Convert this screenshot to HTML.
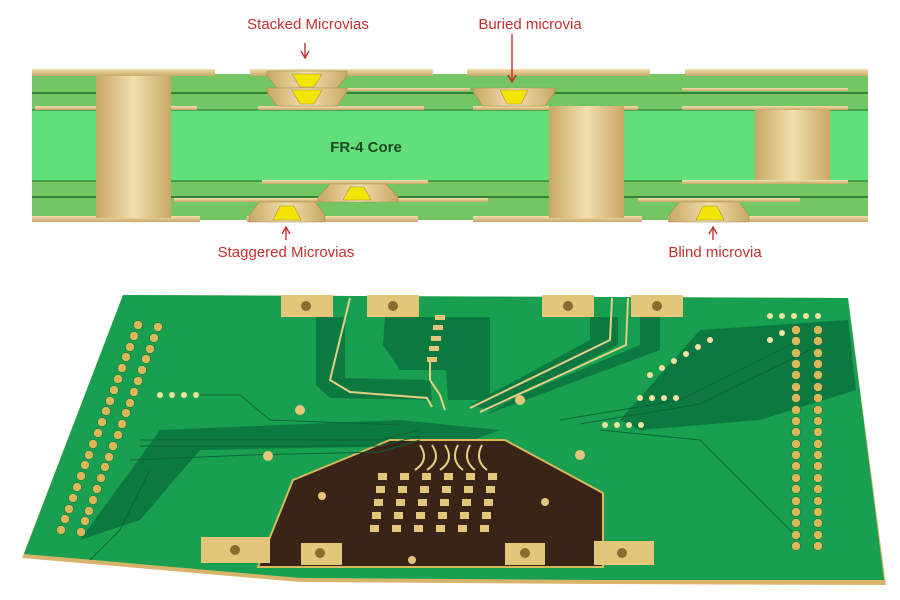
<!DOCTYPE html>
<html><head><meta charset="utf-8"><style>
html,body{margin:0;padding:0;background:#fff;width:900px;height:600px;overflow:hidden}
svg{display:block}
.lbl{font-family:"Liberation Sans",sans-serif;font-size:15px;fill:#c3302e}
</style></head><body>
<svg width="900" height="600" viewBox="0 0 900 600" xmlns="http://www.w3.org/2000/svg">
<defs>
<linearGradient id="cu" x1="0" y1="0" x2="1" y2="0">
<stop offset="0" stop-color="#c9a866"/><stop offset="0.5" stop-color="#f1dfae"/><stop offset="1" stop-color="#c9a866"/></linearGradient>
<linearGradient id="cuv" x1="0" y1="0" x2="0" y2="1">
<stop offset="0" stop-color="#f1dfae"/><stop offset="1" stop-color="#c9a866"/></linearGradient>
</defs>
<!-- ===== top cross-section ===== -->
<rect x="32" y="74" width="836" height="146" fill="#74c665"/>
<rect x="32" y="110" width="836" height="71" fill="#62de7a"/>
<line x1="32" y1="93" x2="868" y2="93" stroke="#1e6e2a" stroke-width="1.5"/>
<line x1="32" y1="197" x2="868" y2="197" stroke="#1e6e2a" stroke-width="1.5"/>
<line x1="32" y1="110" x2="868" y2="110" stroke="#1e6e2a" stroke-width="1"/>
<line x1="32" y1="181" x2="868" y2="181" stroke="#1e6e2a" stroke-width="1"/>
<g fill="url(#cuv)">
<rect x="32" y="69" width="183" height="7"/><rect x="250" y="69" width="183" height="7"/>
<rect x="467" y="69" width="183" height="7"/><rect x="685" y="69" width="183" height="7"/>
<rect x="32" y="216" width="168" height="6"/><rect x="247" y="216" width="171" height="6"/>
<rect x="473" y="216" width="169" height="6"/><rect x="668" y="216" width="200" height="6"/>
<rect x="35" y="106" width="62" height="4"/><rect x="171" y="106" width="26" height="4"/>
<rect x="258" y="106" width="166" height="4"/><rect x="473" y="106" width="165" height="4"/><rect x="682" y="106" width="166" height="4"/>
<rect x="347" y="88" width="123" height="3"/><rect x="682" y="88" width="166" height="3"/>
<rect x="262" y="180" width="166" height="4"/><rect x="682" y="180" width="166" height="4"/>
<rect x="174" y="198" width="314" height="4"/><rect x="638" y="198" width="162" height="4"/>
</g>
<rect x="96" y="76" width="75" height="142" fill="url(#cu)"/>
<rect x="549" y="106" width="75" height="112" fill="url(#cu)"/>
<rect x="755" y="110" width="75" height="70" fill="url(#cu)"/>
<g stroke="#a88a4c" stroke-width="0.6">
<path d="M267,71 H347 V76 L337,88 H277 L267,76Z" fill="url(#cu)"/><path d="M292,74 H322 L314,87 H300Z" fill="#f2e600"/>
<path d="M267,88 H347 V92 L337,106 H277 L267,92Z" fill="url(#cu)"/><path d="M292,90 H322 L314,104 H300Z" fill="#f2e600"/>
<path d="M473,88 H555 V92 L545,106 H483 L473,92Z" fill="url(#cu)"/><path d="M500,90 H528 L521,104 H507Z" fill="#f2e600"/>
<path d="M318,202 V197 L330,184 H386 L398,197 V202Z" fill="url(#cu)"/><path d="M343,200 L350,187 H364 L371,200Z" fill="#f2e600"/>
<path d="M249,222 V215 L259,202 H315 L325,215 V222Z" fill="url(#cu)"/><path d="M273,220 L280,206 H294 L301,220Z" fill="#f2e600"/>
<path d="M669,222 V215 L679,202 H739 L749,215 V222Z" fill="url(#cu)"/><path d="M696,220 L703,206 H717 L724,220Z" fill="#f2e600"/>
</g>
<text x="366" y="152" font-family="Liberation Sans,sans-serif" font-size="15" font-weight="bold" fill="#1d4a22" text-anchor="middle">FR-4  Core</text>
<text class="lbl" x="308" y="29" text-anchor="middle">Stacked Microvias</text>
<text class="lbl" x="530" y="29" text-anchor="middle">Buried microvia</text>
<text class="lbl" x="286" y="257" text-anchor="middle">Staggered Microvias</text>
<text class="lbl" x="715" y="257" text-anchor="middle">Blind microvia</text>
<g stroke="#c3302e" stroke-width="1.4" fill="none">
<line x1="305" y1="43" x2="305" y2="58"/><path d="M301,51 L305,58 L309,51"/>
<line x1="512" y1="34" x2="512" y2="82"/><path d="M508,75 L512,82 L516,75"/>
<line x1="286" y1="240" x2="286" y2="228"/><path d="M282,234 L286,227 L290,234"/>
<line x1="713" y1="240" x2="713" y2="228"/><path d="M709,234 L713,227 L717,234"/>
</g>
<!-- ===== bottom PCB photo ===== -->
<polygon points="123,295 848,298 886,585 600,584 300,582 22,558" fill="#d8b46a"/>
<polygon points="123,295 848,298 884,580 600,580 300,578 24,554" fill="#18a050"/>
<g fill="#0c7a40">
<polygon points="316,317 345,317 345,378 430,380 432,400 330,398 316,385"/>
<polygon points="385,317 490,317 490,400 448,400 446,370 400,370 383,345"/>
<polygon points="590,317 618,317 618,345 490,410 470,405 590,340"/>
<polygon points="640,317 660,317 660,350 485,415 520,395 640,345"/>
<polygon points="700,330 848,320 856,390 760,420 640,430 620,420"/>
<polygon points="160,430 400,420 500,430 460,445 200,450 140,520 80,540"/>
</g>
<polygon points="293,480 390,440 505,440 603,493 603,567 258,567" fill="#3a2418" stroke="#d9b85a" stroke-width="2"/>
<g fill="none" stroke="#e6cf84" stroke-width="2">
<polyline points="350,298 330,380 350,392 427,398 432,407"/>
<polyline points="612,298 610,340 470,408"/>
<polyline points="628,298 626,345 480,412"/>
<polyline points="430,360 430,380 440,395 445,410"/>
<path d="M420,445 q10,15 -5,25 M432,445 q10,15 -5,25 M445,445 q10,15 -5,25 M458,445 q-8,15 5,25 M470,445 q-8,15 5,25 M482,445 q-8,15 5,25"/>
</g>
<g fill="none" stroke="#0b6436" stroke-width="1">
<polyline points="140,440 380,440 420,430"/><polyline points="140,446 380,446 420,436"/>
<polyline points="130,460 250,455 380,452 420,440"/><polyline points="600,430 700,440 800,540"/>
<polyline points="560,420 680,400 800,340"/><polyline points="580,424 700,404 810,350"/>
<polyline points="200,395 240,395 270,420 400,425"/><polyline points="150,470 120,530 90,560"/>
</g>
<g fill="#e2c77a">
<rect x="281" y="295" width="52" height="22"/><rect x="367" y="295" width="52" height="22"/>
<rect x="542" y="295" width="52" height="22"/><rect x="631" y="295" width="52" height="22"/>
<rect x="201" y="537" width="69" height="26"/><rect x="301" y="543" width="41" height="22"/>
<rect x="505" y="543" width="40" height="22"/><rect x="594" y="541" width="60" height="24"/>
<rect x="435" y="315" width="10" height="5"/><rect x="433" y="325" width="10" height="5"/><rect x="431" y="336" width="10" height="5"/><rect x="429" y="346" width="10" height="5"/><rect x="427" y="357" width="10" height="5"/>
</g>
<g fill="#8a6c30">
<circle cx="306" cy="306" r="5"/><circle cx="393" cy="306" r="5"/><circle cx="568" cy="306" r="5"/><circle cx="657" cy="306" r="5"/>
<circle cx="235" cy="550" r="5"/><circle cx="320" cy="553" r="5"/><circle cx="525" cy="553" r="5"/><circle cx="622" cy="553" r="5"/>
</g>
<g fill="#e2c77a">
<rect x="378" y="473" width="9" height="7"/><rect x="400" y="473" width="9" height="7"/><rect x="422" y="473" width="9" height="7"/><rect x="444" y="473" width="9" height="7"/><rect x="466" y="473" width="9" height="7"/><rect x="488" y="473" width="9" height="7"/>
<rect x="376" y="486" width="9" height="7"/><rect x="398" y="486" width="9" height="7"/><rect x="420" y="486" width="9" height="7"/><rect x="442" y="486" width="9" height="7"/><rect x="464" y="486" width="9" height="7"/><rect x="486" y="486" width="9" height="7"/>
<rect x="374" y="499" width="9" height="7"/><rect x="396" y="499" width="9" height="7"/><rect x="418" y="499" width="9" height="7"/><rect x="440" y="499" width="9" height="7"/><rect x="462" y="499" width="9" height="7"/><rect x="484" y="499" width="9" height="7"/>
<rect x="372" y="512" width="9" height="7"/><rect x="394" y="512" width="9" height="7"/><rect x="416" y="512" width="9" height="7"/><rect x="438" y="512" width="9" height="7"/><rect x="460" y="512" width="9" height="7"/><rect x="482" y="512" width="9" height="7"/>
<rect x="370" y="525" width="9" height="7"/><rect x="392" y="525" width="9" height="7"/><rect x="414" y="525" width="9" height="7"/><rect x="436" y="525" width="9" height="7"/><rect x="458" y="525" width="9" height="7"/><rect x="480" y="525" width="9" height="7"/>
<circle cx="322" cy="496" r="4"/><circle cx="545" cy="502" r="4"/><circle cx="412" cy="560" r="4"/>
<circle cx="300" cy="410" r="5"/><circle cx="520" cy="400" r="5"/><circle cx="268" cy="456" r="5"/><circle cx="580" cy="455" r="5"/>
</g>
<g fill="#d9b85a" stroke="#0e6b37" stroke-width="0.5">
<circle cx="138" cy="325" r="4.5"/><circle cx="134" cy="336" r="4.5"/><circle cx="130" cy="347" r="4.5"/><circle cx="126" cy="357" r="4.5"/><circle cx="122" cy="368" r="4.5"/><circle cx="118" cy="379" r="4.5"/><circle cx="114" cy="390" r="4.5"/><circle cx="110" cy="401" r="4.5"/><circle cx="106" cy="411" r="4.5"/><circle cx="102" cy="422" r="4.5"/><circle cx="98" cy="433" r="4.5"/><circle cx="93" cy="444" r="4.5"/><circle cx="89" cy="455" r="4.5"/><circle cx="85" cy="465" r="4.5"/><circle cx="81" cy="476" r="4.5"/><circle cx="77" cy="487" r="4.5"/><circle cx="73" cy="498" r="4.5"/><circle cx="69" cy="509" r="4.5"/><circle cx="65" cy="519" r="4.5"/><circle cx="61" cy="530" r="4.5"/>
<circle cx="158" cy="327" r="4.5"/><circle cx="154" cy="338" r="4.5"/><circle cx="150" cy="349" r="4.5"/><circle cx="146" cy="359" r="4.5"/><circle cx="142" cy="370" r="4.5"/><circle cx="138" cy="381" r="4.5"/><circle cx="134" cy="392" r="4.5"/><circle cx="130" cy="403" r="4.5"/><circle cx="126" cy="413" r="4.5"/><circle cx="122" cy="424" r="4.5"/><circle cx="118" cy="435" r="4.5"/><circle cx="113" cy="446" r="4.5"/><circle cx="109" cy="457" r="4.5"/><circle cx="105" cy="467" r="4.5"/><circle cx="101" cy="478" r="4.5"/><circle cx="97" cy="489" r="4.5"/><circle cx="93" cy="500" r="4.5"/><circle cx="89" cy="511" r="4.5"/><circle cx="85" cy="521" r="4.5"/><circle cx="81" cy="532" r="4.5"/>
<circle cx="796" cy="330" r="4.5"/><circle cx="796" cy="341" r="4.5"/><circle cx="796" cy="353" r="4.5"/><circle cx="796" cy="364" r="4.5"/><circle cx="796" cy="375" r="4.5"/><circle cx="796" cy="387" r="4.5"/><circle cx="796" cy="398" r="4.5"/><circle cx="796" cy="410" r="4.5"/><circle cx="796" cy="421" r="4.5"/><circle cx="796" cy="432" r="4.5"/><circle cx="796" cy="444" r="4.5"/><circle cx="796" cy="455" r="4.5"/><circle cx="796" cy="466" r="4.5"/><circle cx="796" cy="478" r="4.5"/><circle cx="796" cy="489" r="4.5"/><circle cx="796" cy="501" r="4.5"/><circle cx="796" cy="512" r="4.5"/><circle cx="796" cy="523" r="4.5"/><circle cx="796" cy="535" r="4.5"/><circle cx="796" cy="546" r="4.5"/>
<circle cx="818" cy="330" r="4.5"/><circle cx="818" cy="341" r="4.5"/><circle cx="818" cy="353" r="4.5"/><circle cx="818" cy="364" r="4.5"/><circle cx="818" cy="375" r="4.5"/><circle cx="818" cy="387" r="4.5"/><circle cx="818" cy="398" r="4.5"/><circle cx="818" cy="410" r="4.5"/><circle cx="818" cy="421" r="4.5"/><circle cx="818" cy="432" r="4.5"/><circle cx="818" cy="444" r="4.5"/><circle cx="818" cy="455" r="4.5"/><circle cx="818" cy="466" r="4.5"/><circle cx="818" cy="478" r="4.5"/><circle cx="818" cy="489" r="4.5"/><circle cx="818" cy="501" r="4.5"/><circle cx="818" cy="512" r="4.5"/><circle cx="818" cy="523" r="4.5"/><circle cx="818" cy="535" r="4.5"/><circle cx="818" cy="546" r="4.5"/>
</g>
<g fill="#f0e2a0">
<circle cx="640" cy="398" r="3"/><circle cx="652" cy="398" r="3"/><circle cx="664" cy="398" r="3"/><circle cx="676" cy="398" r="3"/>
<circle cx="605" cy="425" r="3"/><circle cx="617" cy="425" r="3"/><circle cx="629" cy="425" r="3"/><circle cx="641" cy="425" r="3"/>
<circle cx="650" cy="375" r="3"/><circle cx="662" cy="368" r="3"/><circle cx="674" cy="361" r="3"/><circle cx="686" cy="354" r="3"/><circle cx="698" cy="347" r="3"/><circle cx="710" cy="340" r="3"/>
<circle cx="770" cy="340" r="3"/><circle cx="782" cy="333" r="3"/><circle cx="770" cy="316" r="3"/><circle cx="782" cy="316" r="3"/><circle cx="794" cy="316" r="3"/><circle cx="806" cy="316" r="3"/><circle cx="818" cy="316" r="3"/>
<circle cx="160" cy="395" r="3"/><circle cx="172" cy="395" r="3"/><circle cx="184" cy="395" r="3"/><circle cx="196" cy="395" r="3"/>
</g>
</svg>
</body></html>
